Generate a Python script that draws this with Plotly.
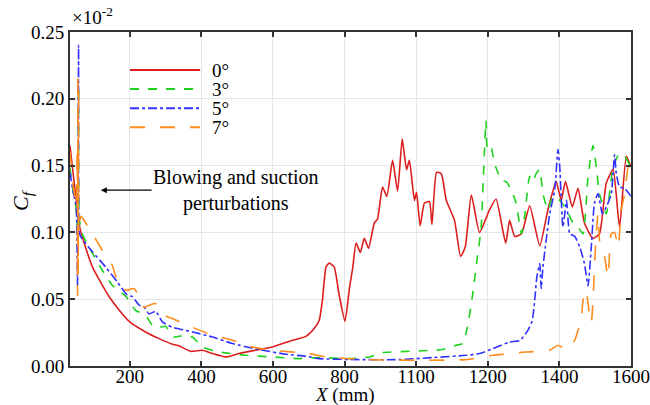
import plotly.graph_objects as go

# ---------------- data ----------------
x_0 = [33, 40, 48, 55, 60, 75, 96, 120, 142, 170, 200, 244, 282, 319, 338, 370, 403, 431, 468, 505,
       561, 598, 655, 692, 715, 729, 738, 748, 757, 771, 785, 801, 814, 823, 832, 844, 855, 867, 883,
       892, 906, 918, 934, 948, 961, 973, 981, 995, 1001, 1011, 1023, 1037, 1044, 1057, 1070, 1084,
       1107, 1124, 1137, 1154, 1177, 1205, 1223, 1250, 1261, 1275, 1294, 1317, 1345, 1368, 1391,
       1405, 1417, 1436, 1452, 1470, 1494, 1512, 1531, 1550, 1568, 1587, 1600]
y_0 = [0.165, 0.148, 0.13, 0.115, 0.104, 0.09, 0.074, 0.062, 0.052, 0.042, 0.033, 0.0255, 0.0205,
       0.0163, 0.015, 0.011, 0.0118, 0.0093, 0.0068, 0.0093, 0.0123, 0.0142, 0.0193, 0.0222, 0.028,
       0.034, 0.049, 0.074, 0.077, 0.074, 0.053, 0.0335, 0.059, 0.074, 0.092, 0.085, 0.0955, 0.088,
       0.107, 0.110, 0.134, 0.127, 0.154, 0.131, 0.170, 0.147, 0.154, 0.124, 0.130, 0.105, 0.122,
       0.123, 0.106, 0.145, 0.144, 0.124, 0.109, 0.082, 0.089, 0.128, 0.100, 0.117, 0.125, 0.092,
       0.109, 0.097, 0.099, 0.120, 0.090, 0.117, 0.138, 0.124, 0.138, 0.119, 0.133, 0.107, 0.0955,
       0.099, 0.137, 0.147, 0.104, 0.157, 0.149]

x_3 = [33, 42, 50, 54, 57, 59, 67, 86, 123, 151, 189, 216, 244, 263, 282, 300, 324, 352, 375, 403,
       450, 524, 598, 673, 729, 814, 870, 906, 1000, 1074, 1111, 1130, 1143, 1158, 1171, 1181, 1187,
       1195, 1199, 1209, 1218, 1228, 1237, 1251, 1265, 1279, 1294, 1303, 1317, 1326, 1335, 1345,
       1354, 1368, 1382, 1401, 1420, 1438, 1452, 1466, 1480, 1494, 1503, 1512, 1531, 1550, 1568,
       1582, 1600]
y_3 = [0.148, 0.13, 0.118, 0.10, 0.21, 0.11, 0.099, 0.089, 0.0717, 0.0605, 0.052, 0.0417, 0.038,
       0.0305, 0.029, 0.0297, 0.0217, 0.023, 0.0217, 0.0142, 0.0105, 0.008, 0.0068, 0.0055, 0.0063,
       0.0055, 0.0068, 0.010, 0.0112, 0.0123, 0.0155, 0.0168, 0.029, 0.054, 0.082, 0.102, 0.137,
       0.184, 0.162, 0.164, 0.152, 0.145, 0.139, 0.138, 0.132, 0.122, 0.099, 0.112, 0.142, 0.138,
       0.144, 0.147, 0.129, 0.117, 0.127, 0.124, 0.117, 0.107, 0.104, 0.099, 0.142, 0.165, 0.149,
       0.129, 0.114, 0.149, 0.159, 0.157, 0.149]

x_5 = [33, 42, 50, 54, 57, 59, 63, 96, 133, 165, 193, 207, 226, 240, 254, 272, 291, 319, 375, 431,
       487, 561, 636, 692, 729, 841, 953, 1046, 1139, 1177, 1214, 1261, 1289, 1312, 1324, 1331, 1337,
       1345, 1349, 1354, 1363, 1373, 1387, 1396, 1401, 1410, 1420, 1429, 1443, 1457, 1470, 1480,
       1489, 1498, 1508, 1520, 1531, 1545, 1554, 1559, 1568, 1582, 1600]
y_5 = [0.145, 0.13, 0.12, 0.06, 0.24, 0.10, 0.0967, 0.0854, 0.074, 0.063, 0.053, 0.052, 0.0455,
       0.044, 0.039, 0.041, 0.033, 0.029, 0.0255, 0.0217, 0.0168, 0.0123, 0.0088, 0.0073, 0.0055,
       0.0048, 0.0048, 0.0063, 0.008, 0.0093, 0.013, 0.018, 0.019, 0.0267, 0.034, 0.049, 0.0667,
       0.0767, 0.058, 0.074, 0.094, 0.114, 0.132, 0.162, 0.149, 0.104, 0.124, 0.099, 0.097, 0.089,
       0.0767, 0.060, 0.089, 0.122, 0.129, 0.114, 0.119, 0.129, 0.158, 0.144, 0.134, 0.133, 0.127]

x_7 = [33, 42, 50, 53, 54, 55, 56, 57, 58, 63, 77, 96, 123, 151, 165, 175, 189, 212, 226, 240, 254,
       272, 296, 319, 375, 431, 487, 543, 598, 701, 748, 859, 1000, 1139, 1214, 1307, 1373, 1396,
       1410, 1424, 1443, 1452, 1461, 1470, 1477, 1484, 1489, 1494, 1498, 1503, 1508, 1512, 1517,
       1526, 1536, 1545, 1554, 1564, 1573, 1582, 1592, 1600]
y_7 = [0.16, 0.135, 0.12, 0.16, 0.053, 0.22, 0.07, 0.21, 0.10, 0.112, 0.107, 0.099, 0.0867, 0.0754,
       0.064, 0.063, 0.0567, 0.058, 0.052, 0.044, 0.0455, 0.0467, 0.038, 0.0355, 0.029, 0.023,
       0.0193, 0.0142, 0.0118, 0.0093, 0.0068, 0.0048, 0.0043, 0.0048, 0.008, 0.0105, 0.0118,
       0.0155, 0.0138, 0.013, 0.0193, 0.0267, 0.0367, 0.0567, 0.052, 0.039, 0.032, 0.049, 0.074,
       0.099, 0.114, 0.094, 0.089, 0.082, 0.0667, 0.099, 0.100, 0.089, 0.117, 0.129, 0.149, 0.14]

series_names = ["0°", "3°", "5°", "7°"]
series_colors = ["#dc1e1e", "#1ed21e", "#3232ff", "#ff8c1e"]
series_dash = ["solid", "dash", "dashdot", "longdash"]

x_tickvals = [200, 400, 600, 800, 1000, 1200, 1400, 1600]
x_ticktext = ["200", "400", "600", "800", "1100", "1200", "1400", "1600"]
y_tickvals = [0.00, 0.05, 0.10, 0.15, 0.20, 0.25]

FONT = "Liberation Serif"
FS = 20      # annotation text
FS_TICK = 19 # tick labels
FS_LEG = 19  # legend labels

fig = go.Figure()
for xs, ys, name, col, dash in zip([x_0, x_3, x_5, x_7], [y_0, y_3, y_5, y_7],
                                   series_names, series_colors, series_dash):
    fig.add_trace(go.Scatter(x=xs, y=ys, mode="lines", name=name, showlegend=False,
                             line=dict(color=col, width=1.6, dash=dash,
                                       shape="spline", smoothing=0.5)))

# legend drawn as a key (line sample + label) in paper coordinates
leg_x0, leg_x1, leg_tx = 0.107, 0.232, 0.250
leg_y_top, leg_step = 0.886, 0.057
for i, (name, col, dash) in enumerate(zip(series_names, series_colors, series_dash)):
    yy = leg_y_top - i * leg_step
    fig.add_shape(type="line", xref="paper", yref="paper", x0=leg_x0, x1=leg_x1, y0=yy, y1=yy,
                  line=dict(color=col, width=2, dash=dash))
    fig.add_annotation(x=leg_tx, y=yy, xref="paper", yref="paper", xanchor="left",
                       yanchor="middle", text=name, showarrow=False,
                       font=dict(family=FONT, size=FS_LEG, color="black"))

axis_common = dict(showline=True, linecolor="#333333", linewidth=2, mirror="ticks",
                   ticks="inside", ticklen=5, tickwidth=1.5, tickcolor="#333333",
                   showgrid=True, gridcolor="#e6e6e6", gridwidth=1, zeroline=False,
                   automargin=False,
                   tickfont=dict(family=FONT, size=FS_TICK, color="black"))

fig.update_xaxes(range=[33, 1600], tickvals=x_tickvals, ticktext=x_ticktext,
                 ticklabelstandoff=-8, **axis_common)
fig.update_yaxes(range=[0, 0.25], tickvals=y_tickvals, tickformat=".2f", **axis_common)

fig.update_layout(
    width=650, height=405,
    margin=dict(l=70, r=19, t=32, b=39),
    paper_bgcolor="white", plot_bgcolor="white",
    font=dict(family=FONT, size=FS, color="black"),
    showlegend=False,
)

fig.add_annotation(x=119, y=0.1316, ax=497, ay=0.1316, xref="x", yref="y", axref="x", ayref="y",
                   text="Blowing and suction<br>perturbations", showarrow=True,
                   arrowhead=2, arrowsize=1, arrowwidth=1.2, arrowcolor="black",
                   font=dict(family=FONT, size=FS, color="black"), align="center")

fig.add_annotation(x=0.0, y=1.0, xref="paper", yref="paper", xanchor="left", yanchor="bottom",
                   yshift=2, text="×10<sup>-2</sup>", showarrow=False,
                   font=dict(family=FONT, size=FS_TICK, color="black"))

fig.add_annotation(x=-0.0856, y=0.497, xref="paper", yref="paper", textangle=-90,
                   xanchor="center", yanchor="middle",
                   text="<i>C</i><sub><i>f</i></sub>", showarrow=False,
                   font=dict(family=FONT, size=22, color="black"))

fig.add_annotation(x=0.490, y=-0.088, xref="paper", yref="paper",
                   xanchor="center", yanchor="middle",
                   text="<i>X</i> (mm)", showarrow=False,
                   font=dict(family=FONT, size=FS_TICK, color="black"))

fig.write_html("out.html", config={"displayModeBar": False},
               post_script="document.body.style.margin='0px';document.body.style.overflow='hidden';")
